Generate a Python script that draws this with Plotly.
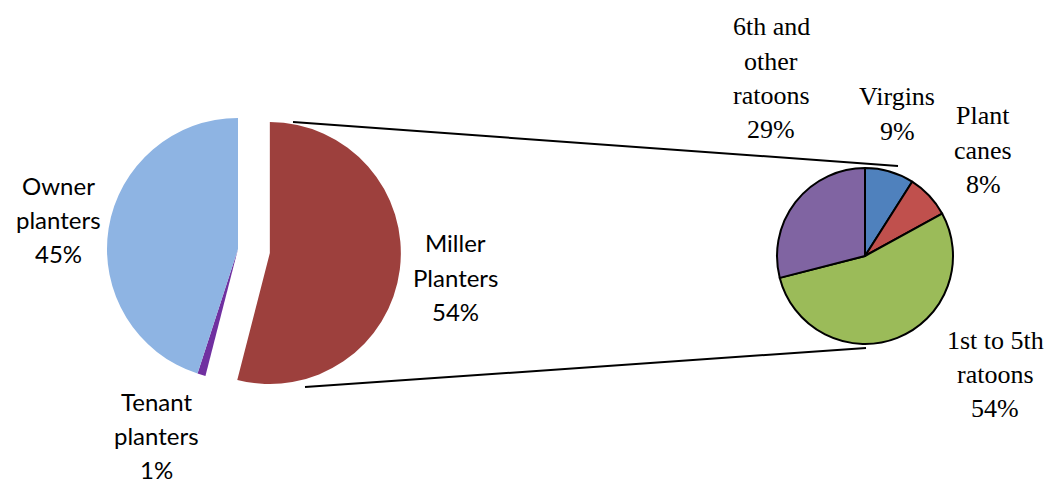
import plotly.graph_objects as go

W, H = 1048, 483

# ---- data ----
left_labels = ["Miller Planters", "Tenant planters", "Owner planters"]
left_values = [54, 1, 45]
left_colors = ["#9D403D", "#7030A0", "#8EB4E3"]
left_pull = [0.245, 0, 0]

right_labels = ["Virgins", "Plant canes", "1st to 5th ratoons", "6th and other ratoons"]
right_values = [9, 8, 54, 29]
right_colors = ["#4F81BD", "#C0504D", "#9BBB59", "#8064A2"]

# label text lines (label split + percent)
left_text_lines = [["Miller", "Planters", "54%"], ["Tenant", "planters", "1%"], ["Owner", "planters", "45%"]]
right_text_lines = [["Virgins", "9%"], ["Plant", "canes", "8%"], ["1st to 5th", "ratoons", "54%"],
                    ["6th and", "other", "ratoons", "29%"]]

# ---- layout geometry (pixels) ----
L_cx, L_cy, L_r = 238, 249, 131
R_cx, R_cy, R_r = 865, 256, 88
left_label_pos = [(455, 243), (156, 401), (58, 185)]     # centre x, first-line y
right_label_pos = [(897, 97), (983, 116), (995, 340), (771, 27)]
LINE_STEP = 34.3


def dom(cx, cy, half):
    return dict(x=[(cx - half) / W, (cx + half) / W],
                y=[1 - (cy + half) / H, 1 - (cy - half) / H])


maxpull = max(left_pull)
fig = go.Figure()
fig.add_trace(go.Pie(
    labels=left_labels, values=left_values, sort=False, direction="clockwise", rotation=0,
    pull=left_pull, marker=dict(colors=left_colors, line=dict(width=0)),
    textinfo="none", hoverinfo="label+percent",
    domain=dom(L_cx, L_cy, L_r * (1 + maxpull)),
))
fig.add_trace(go.Pie(
    labels=right_labels, values=right_values, sort=False, direction="clockwise", rotation=0,
    marker=dict(colors=right_colors, line=dict(width=2, color="black")),
    textinfo="none", hoverinfo="label+percent",
    domain=dom(R_cx, R_cy, R_r),
))

annotations = []
for lines, (x, y) in zip(left_text_lines, left_label_pos):
    for i, t in enumerate(lines):
        annotations.append(dict(text=t, x=x / W, y=1 - (y + i * LINE_STEP) / H, xref="paper", yref="paper",
                                showarrow=False, xanchor="center", yanchor="middle",
                                font=dict(family="Lato", size=24, color="black")))
for lines, (x, y) in zip(right_text_lines, right_label_pos):
    for i, t in enumerate(lines):
        annotations.append(dict(text=t, x=x / W, y=1 - (y + i * LINE_STEP) / H, xref="paper", yref="paper",
                                showarrow=False, xanchor="center", yanchor="middle",
                                font=dict(family="Liberation Serif", size=26, color="black")))

# connector lines between the exploded slice and the detail pie
connectors = [((293, 122), (898, 166)), ((305, 387), (866, 348))]
shapes = []
for (x0, y0), (x1, y1) in connectors:
    shapes.append(dict(type="line", xref="paper", yref="paper",
                       x0=x0 / W, y0=1 - y0 / H, x1=x1 / W, y1=1 - y1 / H,
                       line=dict(color="black", width=2)))

fig.update_layout(width=W, height=H, margin=dict(l=0, r=0, t=0, b=0),
                  paper_bgcolor="white", plot_bgcolor="white", showlegend=False,
                  annotations=annotations, shapes=shapes)

fig.write_html("out.html", config={"displayModeBar": False},
               post_script="document.body.style.margin='0';document.body.style.padding='0';"
                           "document.body.style.overflow='hidden';")
